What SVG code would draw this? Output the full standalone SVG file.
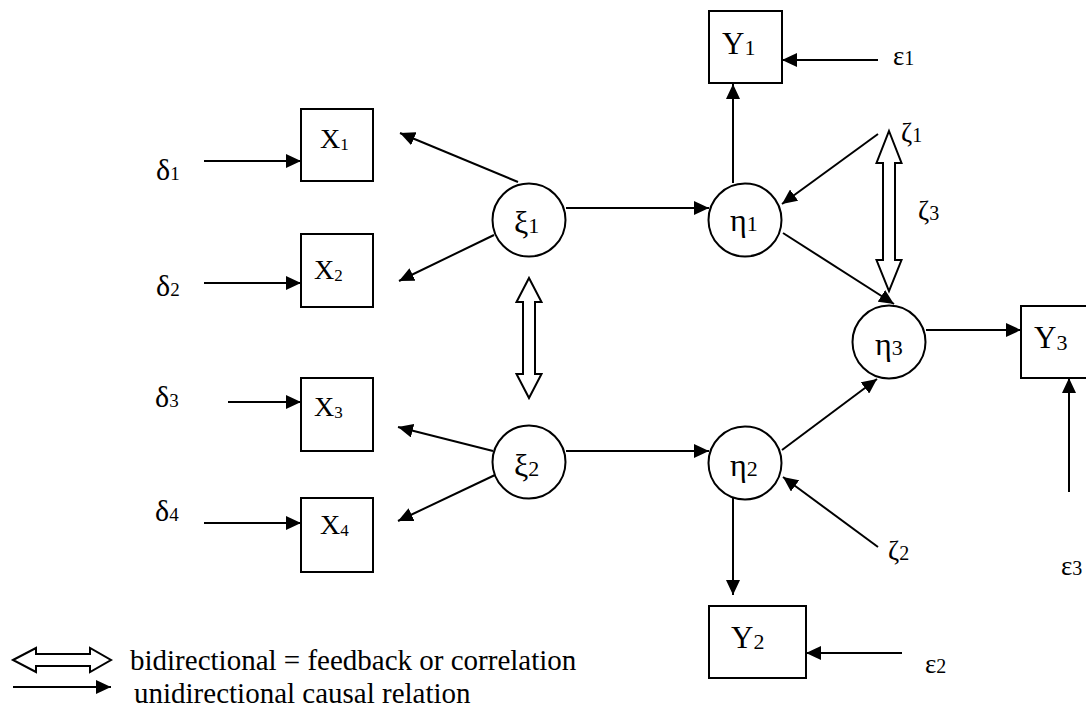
<svg xmlns="http://www.w3.org/2000/svg" width="1086" height="709" viewBox="0 0 1086 709">
<style>
.box{fill:#fff;stroke:#000;stroke-width:2}
.circ{fill:#fff;stroke:#000;stroke-width:2}
.ln{stroke:#000;stroke-width:2;fill:none}
.hollow{fill:#fff;stroke:#000;stroke-width:2;stroke-linejoin:miter}
.t{font-family:'Liberation Serif','Times New Roman','DejaVu Serif',serif;fill:#000}
.d{font-size:30px}
.n{font-size:32px}
.e{font-size:27px}
.lbl{font-size:28px}
.ylbl{font-size:31px}
.sub{font-size:22px}
.dsub{font-size:19px}
.esub{font-size:20px}
.ssub{font-size:17px}
.leg{font-size:29px}
</style>
<defs>
<marker id="ah" markerUnits="userSpaceOnUse" markerWidth="16" markerHeight="14" refX="15" refY="7" orient="auto">
<path d="M0,0 L15,7 L0,14 z" fill="#000"/>
</marker>
</defs>
<rect width="1086" height="709" fill="#fff"/>

<g id="connectors">
<line class="ln" x1="204" y1="161" x2="301" y2="161" marker-end="url(#ah)"/>
<line class="ln" x1="204" y1="283" x2="301" y2="283" marker-end="url(#ah)"/>
<line class="ln" x1="228" y1="402" x2="301" y2="402" marker-end="url(#ah)"/>
<line class="ln" x1="204" y1="523" x2="301" y2="523" marker-end="url(#ah)"/>
<line class="ln" x1="518" y1="182" x2="400" y2="133" marker-end="url(#ah)"/>
<line class="ln" x1="494" y1="235" x2="399" y2="281" marker-end="url(#ah)"/>
<line class="ln" x1="493" y1="451" x2="398" y2="427" marker-end="url(#ah)"/>
<line class="ln" x1="495" y1="475" x2="398" y2="521" marker-end="url(#ah)"/>
<line class="ln" x1="566" y1="208" x2="709" y2="208" marker-end="url(#ah)"/>
<line class="ln" x1="566" y1="451" x2="709" y2="451" marker-end="url(#ah)"/>
<line class="ln" x1="733" y1="183" x2="733" y2="84" marker-end="url(#ah)"/>
<line class="ln" x1="878" y1="60" x2="782" y2="60" marker-end="url(#ah)"/>
<line class="ln" x1="878" y1="134" x2="782" y2="204" marker-end="url(#ah)"/>
<line class="ln" x1="783" y1="233" x2="894" y2="304" marker-end="url(#ah)"/>
<line class="ln" x1="926" y1="330" x2="1021" y2="330" marker-end="url(#ah)"/>
<line class="ln" x1="1069" y1="492" x2="1069" y2="378" marker-end="url(#ah)"/>
<line class="ln" x1="782" y1="450" x2="877" y2="379" marker-end="url(#ah)"/>
<line class="ln" x1="878" y1="547" x2="783" y2="477" marker-end="url(#ah)"/>
<line class="ln" x1="733" y1="498" x2="733" y2="595" marker-end="url(#ah)"/>
<line class="ln" x1="902" y1="653" x2="806" y2="653" marker-end="url(#ah)"/>
<polygon class="hollow" points="529,278 541.5,302 535,302 535,374 541.5,374 529,398 516.5,374 523,374 523,302 516.5,302"/>
<polygon class="hollow" points="889,131 901.5,163 895,163 895,260 901.5,260 889,291 876.5,260 883,260 883,163 876.5,163"/>
</g>

<g id="X1"><rect class="box" x="301" y="109" width="72" height="72"/><text class="t lbl" x="320" y="148">X<tspan class="ssub" dy="2">1</tspan></text></g>
<g id="X2"><rect class="box" x="301" y="234" width="72" height="73"/><text class="t lbl" x="314" y="279">X<tspan class="ssub" dy="2">2</tspan></text></g>
<g id="X3"><rect class="box" x="301" y="378" width="72" height="73"/><text class="t lbl" x="314" y="416">X<tspan class="ssub" dy="2">3</tspan></text></g>
<g id="X4"><rect class="box" x="301" y="498" width="72" height="74"/><text class="t lbl" x="320" y="534">X<tspan class="ssub" dy="2">4</tspan></text></g>

<g id="Y1"><rect class="box" x="709" y="11" width="73" height="72"/><text class="t ylbl" x="722" y="54">Y<tspan class="sub" dy="1">1</tspan></text></g>
<g id="Y2"><rect class="box" x="709" y="606" width="97" height="72"/><text class="t ylbl" x="731" y="648">Y<tspan class="sub" dy="1">2</tspan></text></g>
<g id="Y3"><rect class="box" x="1021" y="306" width="80" height="72"/><text class="t ylbl" x="1034" y="348">Y<tspan class="sub" dy="2">3</tspan></text></g>

<g id="xi1"><circle class="circ" cx="529" cy="220" r="36.5"/><text class="t n" x="514" y="233">ξ<tspan class="sub">1</tspan></text></g>
<g id="xi2"><circle class="circ" cx="529" cy="462" r="36.5"/><text class="t n" x="514" y="476">ξ<tspan class="sub">2</tspan></text></g>
<g id="eta1"><circle class="circ" cx="745" cy="220" r="36.5"/><text class="t n" x="730" y="231">η<tspan class="sub">1</tspan></text></g>
<g id="eta2"><circle class="circ" cx="745" cy="463" r="36.5"/><text class="t n" x="730" y="476">η<tspan class="sub">2</tspan></text></g>
<g id="eta3"><circle class="circ" cx="889" cy="342" r="36.5"/><text class="t n" x="875" y="355">η<tspan class="sub">3</tspan></text></g>

<g id="delta1"><text class="t d" x="156" y="180">δ<tspan class="dsub">1</tspan></text></g>
<g id="delta2"><text class="t d" x="156" y="296">δ<tspan class="dsub">2</tspan></text></g>
<g id="delta3"><text class="t d" x="155" y="407">δ<tspan class="dsub">3</tspan></text></g>
<g id="delta4"><text class="t d" x="155" y="521">δ<tspan class="dsub">4</tspan></text></g>
<g id="eps1"><text class="t e" x="893" y="65">ε<tspan class="esub">1</tspan></text></g>
<g id="eps2"><text class="t e" x="925" y="673">ε<tspan class="esub">2</tspan></text></g>
<g id="eps3"><text class="t e" x="1061" y="575">ε<tspan class="esub">3</tspan></text></g>
<g id="zeta1"><text class="t e" x="901" y="142">ζ<tspan class="esub">1</tspan></text></g>
<g id="zeta2"><text class="t e" x="888" y="560">ζ<tspan class="esub">2</tspan></text></g>
<g id="zeta3"><text class="t e" x="918" y="220">ζ<tspan class="esub">3</tspan></text></g>

<g id="legend">
<polygon class="hollow" points="13,660 36,648 36,654 90,654 90,648 111,660 90,672 90,666 36,666 36,672"/>
<line class="ln" x1="13" y1="687" x2="111" y2="687" marker-end="url(#ah)"/>
<text class="t leg" x="130" y="670">bidirectional =  feedback or correlation</text>
<text class="t leg" x="134" y="703">unidirectional causal relation</text>
</g>
</svg>
